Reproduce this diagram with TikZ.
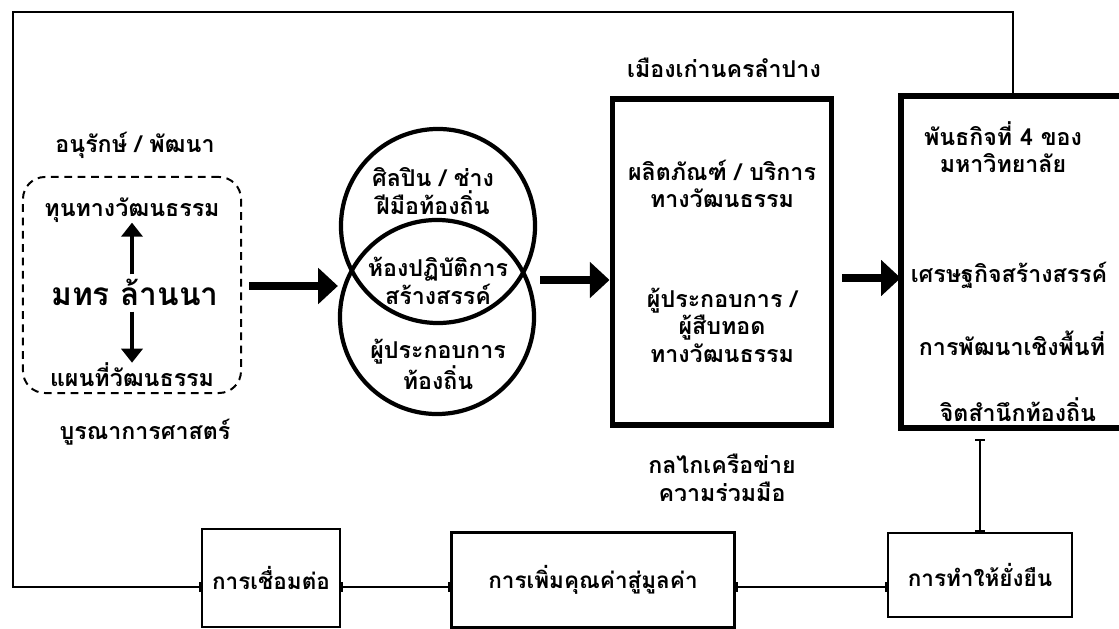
\documentclass[tikz,border=0pt]{standalone}
\usepackage{fontspec}
\newfontfamily\thaifont[Script=Thai]{Loma}
\usetikzlibrary{positioning,arrows.meta}

\begin{document}
\begin{tikzpicture}[
    x=0.025cm, y=-0.025cm,
    label/.style={
        font=\thaifont\bfseries\fontsize{16.5}{19.5}\selectfont,
        align=center,
        inner sep=0pt,
    },
    bigtext/.style={
        label,
        font=\thaifont\bfseries\fontsize{22.5}{26}\selectfont,
    },
    thickbox/.style={
        draw,
        line width=4.2pt,
        inner sep=0pt,
    },
    thickline/.style={
        line width=4.2pt,
        line cap=rect,
    },
    thinbox/.style={
        draw,
        line width=1.6pt,
        label,
        font=\thaifont\bfseries\fontsize{16}{19}\selectfont,
    },
    ring/.style={
        draw,
        circle,
        line width=3pt,
        minimum size=4.85cm,
        inner sep=0pt,
    },
    dashbox/.style={
        draw,
        line width=1.4pt,
        dash pattern=on 5.5pt off 4pt,
        rounded corners=0.55cm,
        minimum width=5.45cm,
        minimum height=5.4cm,
    },
    bigarrow/.style={
        line width=5.5pt,
        -{Triangle[length=14pt,width=25pt]},
    },
    smallarrow/.style={
        line width=2.6pt,
        -{Triangle[length=10pt,width=15pt]},
    },
    link/.style={
        line width=1.5pt,
        {Bar[width=7pt]}-{Bar[width=7pt]},
    },
]

\useasboundingbox (0,0) rectangle (1119,629);

% left block
\node[dashbox] (heritage) at (132,285) {};
\node[label] (conserve) at (135,145) {อนุรักษ์ / พัฒนา};
\node[label] (capital) at (132,210) {ทุนทางวัฒนธรรม};
\node[bigtext] (rmutl) at (135,292) {มทร ล้านนา};
\node[label] (culmap) at (132,375) {แผนที่วัฒนธรรม};
\node[label] (integrate) at (145,432) {บูรณาการศาสตร์};
\draw[smallarrow] (rmutl.north -| capital) ++(0,-4) -- (capital.south);
\draw[smallarrow] (rmutl.south -| culmap) ++(0,6) -- (culmap.north);

% circles
\node[ring] (artisan) at (438,226) {};
\node[ring] (operator) at (437,317) {};
\node[label] (artisantext) at (433,191) {ศิลปิน / ช่าง\\ฝีมือท้องถิ่น};
\node[label] (labtext) at (438,281) {ห้องปฏิบัติการ\\สร้างสรรค์};
\node[label] (operatortext) at (438,364) {ผู้ประกอบการ\\ท้องถิ่น};

% middle box
\node[thickbox, minimum width=5.475cm, minimum height=8.15cm] (product) at (722,262) {};
\node[label] (oldcity) at (724,68) {เมืองเก่านครลำปาง};
\node[label] (producttext) at (722,184) {ผลิตภัณฑ์ / บริการ\\ทางวัฒนธรรม};
\node[label] (heirtext) at (722,325) {ผู้ประกอบการ /\\ผู้สืบทอด\\ทางวัฒนธรรม};
\node[label] (network) at (722,478) {กลไกเครือข่าย\\ความร่วมมือ};

% right box, open at the page edge
\node[inner sep=0pt, minimum width=5.45cm, minimum height=8.275cm] (mission) at (1010,262) {};
\draw[thickline] (mission.north east) -- (mission.north west) -- (mission.south west) -- (mission.south east);
\node[label] (missiontext) at (1003,147) {พันธกิจที่ 4 ของ\\มหาวิทยาลัย};
\node[label] (creative) at (1009,275) {เศรษฐกิจสร้างสรรค์};
\node[label] (area) at (1012,343) {การพัฒนาเชิงพื้นที่};
\node[label] (local) at (1018,410) {จิตสำนึกท้องถิ่น};

% bottom boxes
\node[thinbox, minimum width=3.45cm, minimum height=2.45cm] (connect) at (271,578) {การเชื่อมต่อ};
\node[thinbox, minimum width=7.075cm, minimum height=2.375cm] (value) at (593,580) {การเพิ่มคุณค่าสู่มูลค่า};
\node[thinbox, minimum width=4.6cm, minimum height=2.1cm] (sustain) at (980,575) {การทำให้ยั่งยืน};

% flow arrows
\draw[bigarrow] (heritage.east) ++(7,1) -- (operator.west |- 0,286);
\draw[bigarrow] (540,280) -- (product.west |- 0,280);
\draw[bigarrow] (product.east |- 0,278) ++(8,0) -- (mission.west |- 0,278);

% feedback loop
\coordinate (loopTL) at (13,12);
\coordinate (loopBL) at (13,587);
\coordinate (loopTR) at (1013,12);
\draw[link] (mission.north -| loopTR) -- (loopTR) -- (loopTL) -- (loopBL) -- (loopBL -| connect.west);
\draw[link] (connect.east |- loopBL) -- (value.west |- loopBL);
\draw[link] (value.east |- loopBL) -- (sustain.west |- loopBL);
\draw[link, shorten <=8pt] (sustain.north |- mission.south) -- (sustain.north);

\end{tikzpicture}
\end{document}
